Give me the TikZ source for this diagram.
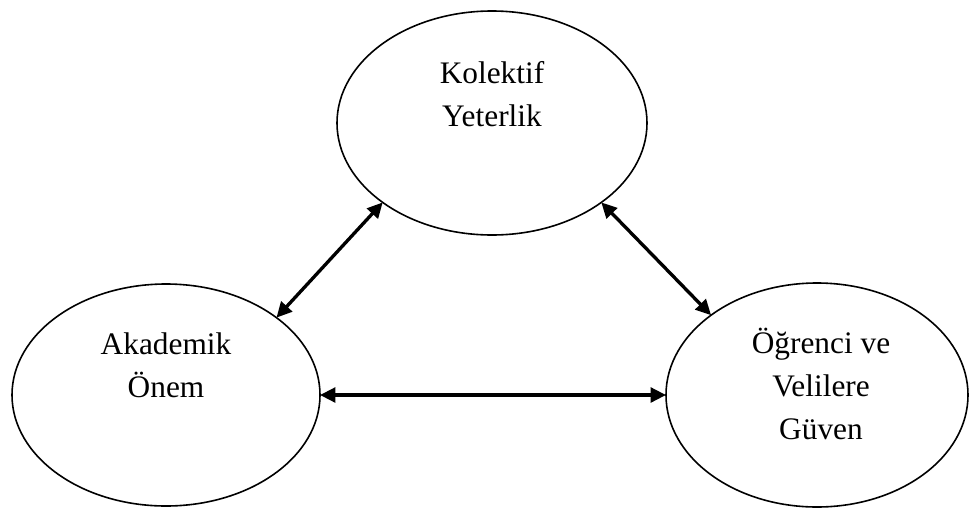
\documentclass[tikz,border=0pt]{standalone}
\usepackage{fontspec}
\setmainfont{Liberation Serif}
\usetikzlibrary{arrows.meta,shapes.geometric}

\tikzset{every picture/.style={line width=0.75pt}}
\tikzset{
  oval/.style={draw, ellipse, line width=1.2pt, inner sep=0pt, outer sep=0pt},
  ovaltext/.style={inner sep=0pt, align=center, font=\fontsize{23.5}{32.3}\selectfont},
  link/.style={line width=2.5pt, {Triangle[length=11.5pt,width=11pt]}-{Triangle[length=11.5pt,width=11pt]}}
}

\begin{document}
\begin{tikzpicture}[x=0.75pt,y=0.75pt,yscale=-1,xscale=1]
    \useasboundingbox (0,0) rectangle (970,507);

    %Shape: Ellipse [id:kolektif]
    \node [oval, minimum width=232.5pt, minimum height=168pt] (ky) at (492,123) {};
    %Shape: Ellipse [id:akademik]
    \node [oval, minimum width=231pt, minimum height=166.5pt] (ao) at (166,395) {};
    %Shape: Ellipse [id:guven]
    \node [oval, minimum width=226.5pt, minimum height=168pt] (vg) at (817,395) {};

    % Text Node
    \node [ovaltext] (ky-t) at (492,94) {Kolektif\\Yeterlik};
    % Text Node
    \node [ovaltext] (ao-t) at (166,365) {Akademik\\Önem};
    % Text Node
    \node [ovaltext] (vg-t) at (821,384) {Öğrenci ve\\Velilere\\Güven};

    %Straight Lines [id:ky-ao]
    \draw [link] (ky.216) -- (ao.35);
    %Straight Lines [id:ky-vg]
    \draw [link] (ky.324) -- (vg.143);
    %Straight Lines [id:ao-vg]
    \draw [link] (ao.east) -- (vg.west);

\end{tikzpicture}
\end{document}
